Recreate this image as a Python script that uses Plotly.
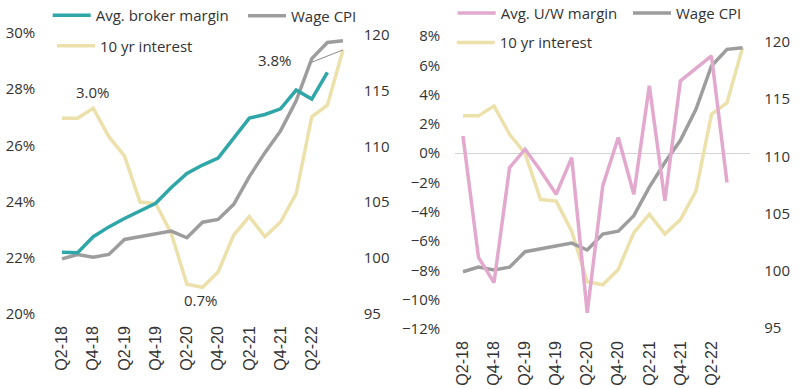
import plotly.graph_objects as go

# ---------------- data ----------------
quarters = ["Q2-18", "Q3-18", "Q4-18", "Q1-19", "Q2-19", "Q3-19", "Q4-19", "Q1-20",
            "Q2-20", "Q3-20", "Q4-20", "Q1-21", "Q2-21", "Q3-21", "Q4-21", "Q1-22",
            "Q2-22", "Q3-22", "Q4-22"]
tick_labels = ["Q2-18", "Q4-18", "Q2-19", "Q4-19", "Q2-20", "Q4-20", "Q2-21", "Q4-21", "Q2-22"]

broker_margin = [22.2, 22.18, 22.75, 23.1, 23.4, 23.68, 23.94, 24.5, 25.0, 25.3, 25.55,
                 26.26, 26.97, 27.1, 27.3, 27.97, 27.65, 28.6, None]
uw_margin = [1.18, -7.12, -8.83, -0.98, 0.27, -1.2, -2.8, -0.3, -10.9, -2.23, 1.07,
             -2.8, 4.6, -3.25, 4.94, 5.8, 6.64, -2.0, None]
wage_cpi = [99.9, 100.3, 100.05, 100.3, 101.65, 101.9, 102.1, 102.4, 101.8, 103.2, 103.45,
            104.8, 107.3, 109.45, 111.4, 114.1, 117.9, 119.35, 119.5]
ten_yr = [2.89, 2.89, 3.02, 2.65, 2.4, 1.80, 1.78, 1.39, 0.73, 0.69, 0.89, 1.37, 1.61,
          1.35, 1.54, 1.91, 2.91, 3.06, 3.78]

# ---------------- style ----------------
TEAL = "#2fa7a8"
GRAY = "#9d9d9d"
YELLOW = "#ece0ab"
PINK = "#e2a8cd"
TXT = "#333333"
FONT = "Open Sans, sans-serif"
W, H = 800, 389
LW = 3.5


def px(x):
    return x / W


def py(y):
    return 1 - y / H


fig = go.Figure()

# ---- left chart ----
fig.add_trace(go.Scatter(x=quarters, y=ten_yr, mode="lines", name="10 yr interest",
                         line=dict(color=YELLOW, width=LW), xaxis="x", yaxis="y",
                         legend="legend3"))
fig.add_trace(go.Scatter(x=quarters, y=wage_cpi, mode="lines", name="Wage CPI",
                         line=dict(color=GRAY, width=LW), xaxis="x", yaxis="y2",
                         legend="legend2"))
fig.add_trace(go.Scatter(x=quarters, y=broker_margin, mode="lines", name="Avg. broker margin",
                         line=dict(color=TEAL, width=LW), xaxis="x", yaxis="y3",
                         legend="legend"))

# ---- right chart ----
fig.add_trace(go.Scatter(x=quarters, y=ten_yr, mode="lines", name="10 yr interest",
                         line=dict(color=YELLOW, width=LW), xaxis="x2", yaxis="y4",
                         legend="legend6"))
fig.add_trace(go.Scatter(x=quarters, y=wage_cpi, mode="lines", name="Wage CPI",
                         line=dict(color=GRAY, width=LW), xaxis="x2", yaxis="y5",
                         legend="legend5"))
fig.add_trace(go.Scatter(x=quarters, y=uw_margin, mode="lines", name="Avg. U/W margin",
                         line=dict(color=PINK, width=LW), xaxis="x2", yaxis="y6",
                         legend="legend4"))

tickfont = dict(family=FONT, size=15, color=TXT)
xtickfont = dict(family="Liberation Sans, Arial, sans-serif", size=16, color=TXT)

common_x = dict(type="category", range=[-0.5, len(quarters) - 0.5], tickmode="array",
                tickvals=tick_labels, ticktext=tick_labels, tickangle=-90, showgrid=False,
                showline=False, zeroline=False, ticks="", tickfont=xtickfont,
                ticklabelstandoff=8, automargin=False)

left_dom_y = [py(314), py(33)]
right_dom_y = [py(329), py(36)]

fig.update_layout(
    width=W, height=H,
    margin=dict(l=0, r=0, t=0, b=0, pad=0, autoexpand=False),
    paper_bgcolor="white", plot_bgcolor="white",
    showlegend=True,
    hovermode=False,
    font=dict(family=FONT, size=15, color=TXT),
    xaxis=dict(domain=[px(54.2), px(350.8)], anchor="y", **common_x),
    yaxis=dict(domain=left_dom_y, anchor="x", range=[0.342, 4.0], visible=False,
               showgrid=False, zeroline=False),
    yaxis2=dict(overlaying="y", anchor="x", side="right", range=[94.95, 120.2],
                tickmode="linear", tick0=95, dtick=5, showgrid=False, zeroline=False,
                showline=False, ticks="", tickfont=tickfont, ticklabelstandoff=12,
                automargin=False),
    yaxis3=dict(overlaying="y", anchor="x", side="left", range=[20, 30],
                tickmode="linear", tick0=20, dtick=2, ticksuffix="%", showgrid=False,
                zeroline=False, showline=False, ticks="", tickfont=tickfont,
                ticklabelstandoff=18, automargin=False),
    xaxis2=dict(domain=[px(455.2), px(750.3)], anchor="y4", **common_x),
    yaxis4=dict(domain=right_dom_y, anchor="x2", range=[0.115, 3.93], visible=False,
                showgrid=False, zeroline=False),
    yaxis5=dict(overlaying="y4", anchor="x2", side="right", range=[94.89, 120.52],
                tickmode="linear", tick0=95, dtick=5, showgrid=False, zeroline=False,
                showline=False, ticks="", tickfont=tickfont, ticklabelstandoff=13,
                automargin=False),
    yaxis6=dict(overlaying="y4", anchor="x2", side="left", range=[-12, 8],
                tickmode="linear", tick0=-12, dtick=2, ticksuffix="%", showgrid=False,
                zeroline=True, zerolinecolor="#d4d4d4", zerolinewidth=1, showline=False,
                ticks="", tickfont=tickfont, ticklabelstandoff=14, automargin=False),
)

legfont = dict(family=FONT, size=15, color=TXT)


def leg(xline, ymid):
    return dict(x=px(xline - 5), y=py(ymid), xanchor="left", yanchor="middle",
                orientation="h", font=legfont, bgcolor="rgba(0,0,0,0)", borderwidth=0,
                itemwidth=38, visible=True)


fig.update_layout(
    legend=leg(52.7, 15.5),
    legend2=leg(248, 16),
    legend3=leg(57, 46),
    legend4=leg(457.7, 13.3),
    legend5=leg(633, 13.3),
    legend6=leg(456.7, 42.7),
)

# ---- annotations (data labels) ----
i_peak = ten_yr.index(max(ten_yr[:8]))
i_low = ten_yr.index(min(ten_yr))
i_last = len(ten_yr) - 1
fig.add_annotation(x=quarters[i_peak], y=ten_yr[i_peak], xref="x", yref="y",
                   text=f"{ten_yr[i_peak]:.1f}%", showarrow=False, yshift=16,
                   font=dict(family=FONT, size=15, color=TXT))
fig.add_annotation(x=quarters[i_low], y=ten_yr[i_low], xref="x", yref="y",
                   text=f"{ten_yr[i_low]:.1f}%", showarrow=False, yshift=-13, xshift=-2,
                   font=dict(family=FONT, size=15, color=TXT))
fig.add_annotation(x=quarters[i_last], y=ten_yr[i_last], xref="x", yref="y",
                   text=f"{ten_yr[i_last]:.1f}%", showarrow=False, xshift=-68, yshift=-10,
                   font=dict(family=FONT, size=15, color=TXT))
# leader line from the Q2-22 position to the last 10 yr point
fig.add_shape(type="line", xref="x", yref="y", x0=i_last - 2, y0=3.62, x1=i_last,
              y1=ten_yr[i_last], line=dict(color="#8a8a8a", width=1))

fig.write_html(
    "out.html",
    config={"displayModeBar": False, "staticPlot": True},
    post_script="document.body.style.margin='0px';document.body.style.padding='0px';"
                "document.body.style.overflow='hidden';",
)
